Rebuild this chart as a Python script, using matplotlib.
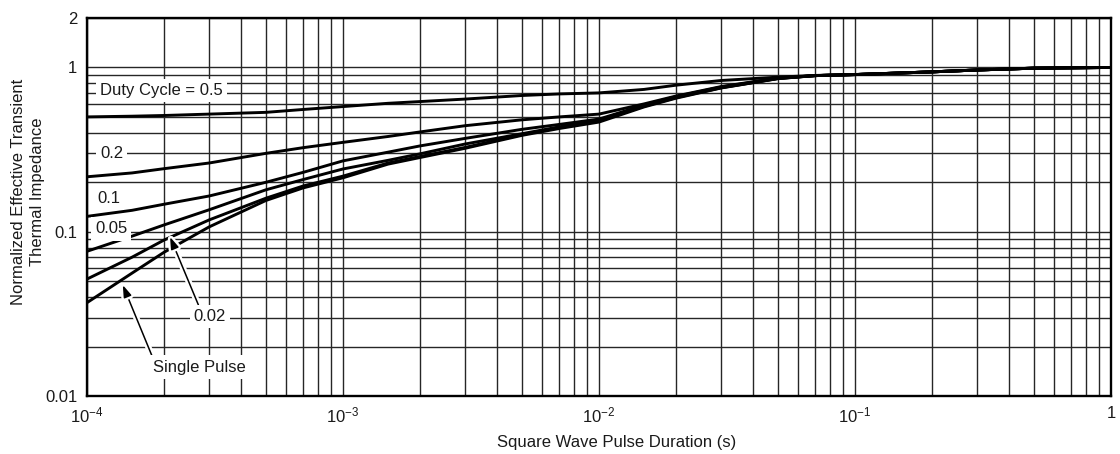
import matplotlib
matplotlib.use("Agg")
import matplotlib.pyplot as plt
import matplotlib.patheffects as pe

plt.rcParams['font.family'] = ['Liberation Sans', 'DejaVu Sans']
plt.rcParams['mathtext.default'] = 'regular'

# pulse duration (s)
t = [1e-4, 1.5e-4, 2e-4, 3e-4, 5e-4, 7e-4, 1e-3, 1.5e-3, 2e-3, 3e-3, 5e-3, 7e-3,
     1e-2, 1.5e-2, 2e-2, 3e-2, 5e-2, 7e-2, 1e-1, 2e-1, 3e-1, 5e-1, 1]

# normalized transient thermal impedance, one list per duty cycle
z_d05 = [0.50, 0.505, 0.51, 0.52, 0.533, 0.555, 0.578, 0.605, 0.62, 0.642, 0.675, 0.69,
         0.70, 0.735, 0.78, 0.833, 0.873, 0.894, 0.906, 0.94, 0.965, 0.99, 1.0]
z_d02 = [0.216, 0.228, 0.242, 0.262, 0.30, 0.325, 0.35, 0.38, 0.405, 0.442, 0.48, 0.50,
         0.52, 0.60, 0.67, 0.765, 0.862, 0.892, 0.905, 0.94, 0.965, 0.99, 1.0]
z_d01 = [0.124, 0.135, 0.147, 0.165, 0.20, 0.23, 0.27, 0.305, 0.333, 0.37, 0.42, 0.45,
         0.485, 0.59, 0.665, 0.76, 0.86, 0.892, 0.905, 0.94, 0.965, 0.99, 1.0]
z_d005 = [0.076, 0.094, 0.11, 0.136, 0.18, 0.208, 0.241, 0.272, 0.298, 0.342, 0.395, 0.435,
          0.478, 0.585, 0.66, 0.755, 0.858, 0.892, 0.905, 0.94, 0.965, 0.99, 1.0]
z_d002 = [0.0515, 0.07, 0.089, 0.118, 0.16, 0.19, 0.218, 0.262, 0.287, 0.326, 0.39, 0.43,
          0.472, 0.58, 0.655, 0.752, 0.856, 0.892, 0.905, 0.94, 0.965, 0.99, 1.0]
z_single = [0.037, 0.056, 0.075, 0.107, 0.155, 0.185, 0.213, 0.258, 0.283, 0.322, 0.386, 0.425,
            0.465, 0.575, 0.65, 0.75, 0.855, 0.892, 0.905, 0.94, 0.965, 0.99, 1.0]

xticks = [1e-4, 1e-3, 1e-2, 1e-1, 1]
xlabels = ['$10^{-4}$', '$10^{-3}$', '$10^{-2}$', '$10^{-1}$', '1']
yticks = [0.01, 0.1, 1, 2]
ylabels = ['0.01', '0.1', '1', '2']

fig = plt.figure(figsize=(11.2, 4.54), dpi=100)
ax = fig.add_axes([87/1120, 58/454, 1024/1120, 378/454])

for z in [z_d05, z_d02, z_d01, z_d005, z_d002, z_single]:
    ax.plot(t, z, color='black', lw=2.1, solid_capstyle='round',
            solid_joinstyle='round', zorder=2.5)

ax.set_xscale('log')
ax.set_yscale('log')
ax.set_xlim(1e-4, 1)
ax.set_ylim(0.01, 2)
ax.grid(which='both', color='#262626', lw=1.0)

ax.set_xticks(xticks)
ax.set_xticklabels(xlabels)
ax.set_yticks(yticks)
ax.set_yticklabels(ylabels)
ax.tick_params(which='both', length=0, labelsize=12, colors='#1a1a1a')
ax.tick_params(axis='x', pad=7)
ax.tick_params(axis='y', pad=7)
for s in ax.spines.values():
    s.set_linewidth(1.7)

box = dict(fc='white', ec='none', pad=3)
kw = dict(fontsize=12, color='#1a1a1a', va='center', ha='left', bbox=box, zorder=3)
ax.text(1.124e-4, 0.724, 'Duty Cycle = 0.5', **kw)
ax.text(1.124e-4, 0.299, '0.2', **kw)
ax.text(1.094e-4, 0.159, '0.1', **kw)
ax.text(1.075e-4, 0.104, '0.05', **kw)

halo = [pe.withStroke(linewidth=4.5, foreground='white')]
arr = dict(arrowstyle='-|>,head_length=0.6,head_width=0.2', color='black', lw=1.1,
           shrinkA=0, shrinkB=0)
a1 = ax.annotate('0.02', xy=(2.11e-4, 0.093), xytext=(3.02e-4, 0.0304),
                 fontsize=12, color='#1a1a1a', ha='center', va='center', bbox=box,
                 arrowprops=dict(arr, relpos=(0.2, 1.0)), zorder=3)
a2 = ax.annotate('Single Pulse', xy=(1.38e-4, 0.0474), xytext=(2.76e-4, 0.015),
                 fontsize=12, color='#1a1a1a', ha='center', va='center', bbox=box,
                 arrowprops=dict(arr, relpos=(0.0, 1.0)), zorder=3)
for a in (a1, a2):
    a.arrow_patch.set_path_effects(halo)

fig.text(28/1120, 1 - 192/454, 'Normalized Effective Transient\nThermal Impedance',
         rotation=90, ha='center', va='center', multialignment='center',
         fontsize=12, color='#1a1a1a', linespacing=1.3)
fig.text(617/1120, 1 - 443/454, 'Square Wave Pulse Duration (s)',
         ha='center', va='center', fontsize=12, color='#1a1a1a')

fig.savefig('out.png', dpi=100)
